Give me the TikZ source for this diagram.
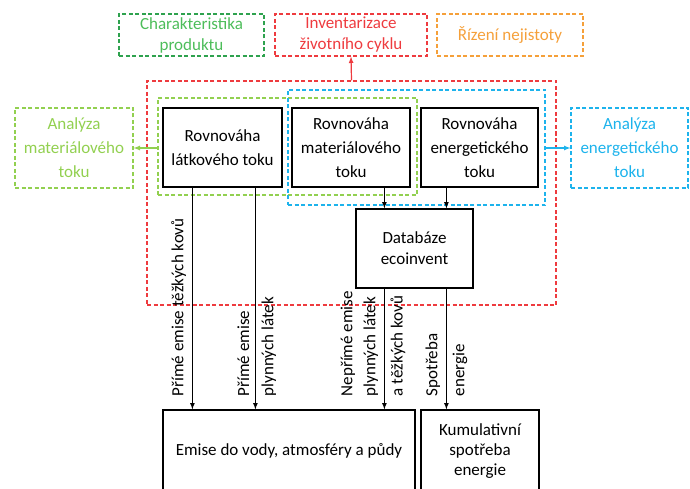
\documentclass[tikz,border=0pt]{standalone}
\usepackage{fontspec}
\setmainfont{Carlito}
\usepackage{xcolor}
\usetikzlibrary{calc, positioning}

\definecolor{tmavezelena}{HTML}{2EA24E}
\definecolor{zelena}{HTML}{4DBD5A}
\definecolor{svetlezelena}{HTML}{92D050}
\definecolor{cervena}{HTML}{EE3B3F}
\definecolor{oranzova}{HTML}{F5A03A}
\definecolor{modra}{HTML}{1DB3EC}

\tikzset{
    box/.style={draw, line width=1.2pt, align=center, inner sep=0pt,
        font=\fontsize{17}{24}\selectfont},
    region/.style={draw, dash pattern=on 4pt off 2.5pt, line width=1.2pt,
        inner sep=0pt},
    rot/.style={rotate=90, align=left, inner sep=1pt,
        font=\fontsize{17}{23}\selectfont}
}

\begin{document}
\begin{tikzpicture}[>=latex, x=1pt, y=-1pt]
    \useasboundingbox (0,0) rectangle (690,489);

    % 1. Horni ramecky
    \node[box, region, draw=tmavezelena, text=zelena, minimum width=145pt, minimum height=42pt,
        font=\fontsize{17}{21}\selectfont] (char) at (191.5,35) {Charakteristika\\produktu};
    \node[box, region, draw=cervena, text=cervena, minimum width=152pt, minimum height=42pt,
        font=\fontsize{17}{21}\selectfont] (inv) at (351,35) {Inventarizace\\životního cyklu};
    \node[box, region, draw=oranzova, text=oranzova, minimum width=146pt, minimum height=42pt] (riz) at (510,35) {Řízení nejistoty};

    % 2. Oblasti
    \node[region, draw=cervena, minimum width=409pt, minimum height=224pt] (red) at (351.5,193) {};
    \node[region, draw=svetlezelena, minimum width=259pt, minimum height=97pt] (grn) at (287.5,146.5) {};
    \node[region, draw=modra, minimum width=257pt, minimum height=115pt] (blu) at (416.5,147.5) {};

    % 3. Bilance
    \node[box, minimum width=119pt, minimum height=79pt] (latk) at (222.5,147.5) {Rovnováha\\látkového toku};
    \node[box, minimum width=118pt, minimum height=79pt] (mat) at (351,147.5) {Rovnováha\\materiálového\\toku};
    \node[box, minimum width=117pt, minimum height=79pt] (ener) at (479.5,147.5) {Rovnováha\\energetického\\toku};
    \node[box, minimum width=117pt, minimum height=79pt, font=\fontsize{17}{21}\selectfont] (db) at (414.5,248.5) {Databáze\\ecoinvent};

    % 4. Analyzy po stranach
    \node[box, region, draw=svetlezelena, text=svetlezelena, minimum width=118pt, minimum height=80pt] (amat) at (74,148) {Analýza\\materiálového\\toku};
    \node[box, region, draw=modra, text=modra, minimum width=117pt, minimum height=80pt] (aener) at (629.5,148) {Analýza\\energetického\\toku};

    % 5. Vystupy
    \node[box, minimum width=252pt, minimum height=82pt] (emise) at (289,451) {Emise do vody, atmosféry a půdy};
    \node[box, minimum width=118pt, minimum height=82pt, font=\fontsize{17}{20}\selectfont] (kum) at (480,451) {Kumulativní\\spotřeba\\energie};

    % 6. Sipky
    \draw[->, svetlezelena, line width=1.2pt] (grn.west |- amat) -- (amat.east);
    \draw[->, modra, line width=1.2pt] (blu.east |- aener) -- (aener.west);
    \draw[->, cervena, line width=1.2pt] (red.north) -- (inv.south);

    \coordinate (l1) at ([xshift=30pt]latk.south west);
    \coordinate (l2) at ([xshift=93pt]latk.south west);
    \coordinate (m1) at ([xshift=93pt]mat.south west);
    \coordinate (e1) at ([xshift=26pt]ener.south west);
    \coordinate (d1) at (m1 |- db.south);
    \coordinate (d2) at (e1 |- db.south);

    \draw[->, line width=1.2pt] (l1) -- (l1 |- emise.north);
    \draw[->, line width=1.2pt] (l2) -- (l2 |- emise.north);
    \draw[->, line width=1.2pt] (m1) -- (m1 |- db.north);
    \draw[->, line width=1.2pt] (e1) -- (e1 |- db.north);
    \draw[->, line width=1.2pt] (d1) -- (d1 |- emise.north);
    \draw[->, line width=1.2pt] (d2) -- (d2 |- kum.north);

    % 7. Popisky u sipek
    \node[rot, anchor=south west] (p1) at ($(l1 |- emise.north)+(-5,-12)$) {Přímé emise těžkých kovů};
    \node[rot, anchor=south west] (p2) at ($(l2 |- emise.north)+(-5,-12)$) {Přímé emise};
    \node[rot, anchor=north west] (p3) at ($(l2 |- emise.north)+(5,-12)$) {plynných látek};
    \node[rot, anchor=south west] (p4) at ($(d1 |- emise.north)+(-5,-12)$) {Nepřímé emise\\plynných látek};
    \node[rot, anchor=north west] (p5) at ($(d1 |- emise.north)+(5,-12)$) {a těžkých kovů};
    \node[rot, anchor=south west] (p6) at ($(d2 |- kum.north)+(-5,-12)$) {Spotřeba};
    \node[rot, anchor=north west] (p7) at ($(d2 |- kum.north)+(5,-12)$) {energie};
\end{tikzpicture}
\end{document}
